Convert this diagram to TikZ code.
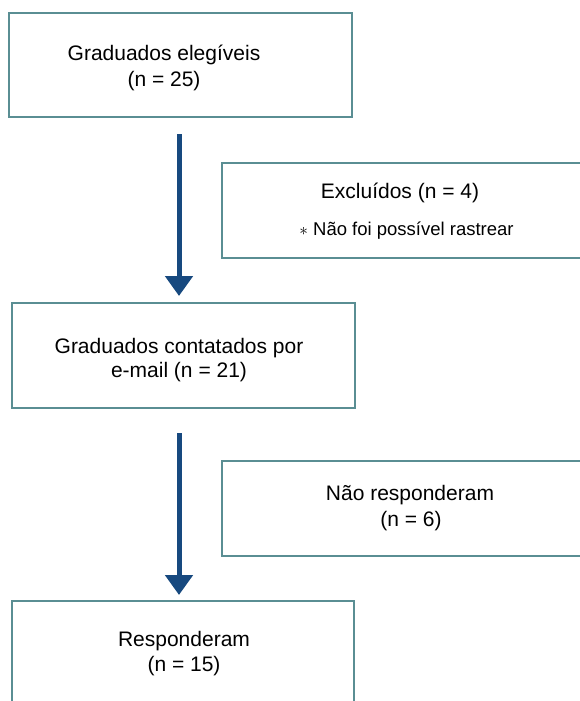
\documentclass[tikz,border=0pt]{standalone}
\usepackage{fontspec}
\setmainfont{Liberation Sans}
\usetikzlibrary{arrows.meta}
\definecolor{boxline}{HTML}{5A8E93}
\definecolor{arrowblue}{HTML}{17497F}
\begin{document}
\begin{tikzpicture}[x=1pt,y=-1pt,
  box/.style={draw=boxline, line width=2pt, fill=white, rectangle, inner sep=0pt},
  txt/.style={anchor=base, font=\fontsize{21}{25}\selectfont, inner sep=0pt},
  smalltxt/.style={anchor=base, font=\fontsize{18.5}{22}\selectfont, inner sep=0pt},
  arr/.style={draw=arrowblue, line width=5pt, -{Triangle[width=27pt,length=20pt]}}]
\useasboundingbox (0,0) rectangle (580,701);
\fill[white] (0,0) rectangle (580,701);
\clip (0,0) rectangle (580,701);
% boxes
\node[box, minimum width=343pt, minimum height=104pt] (b1) at (180.5,65) {};
\node[box, minimum width=368pt, minimum height=95pt] (b2) at (406,210.5) {};
\node[box, minimum width=343pt, minimum height=105pt] (b3) at (183.5,355.5) {};
\node[box, minimum width=368pt, minimum height=95pt] (b4) at (406,508.5) {};
\node[box, minimum width=342pt, minimum height=118pt] (b5) at (183,660) {};
% texts
\node[txt] (t1a) at (164,61) {Graduados elegíveis};
\node[txt] (t1b) at (164,86) {(n = 25)};
\node[txt] (t2a) at (400,198) {Excluídos (n = 4)};
\node[smalltxt] (t2b) at (406.5,235) {$\ast$ Não foi possível rastrear};
\node[txt] (t3a) at (179,353) {Graduados contatados por};
\node[txt] (t3b) at (179,377) {e-mail (n = 21)};
\node[txt] (t4a) at (410,500) {Não responderam};
\node[txt] (t4b) at (411,526) {(n = 6)};
\node[txt] (t5a) at (184,646) {Responderam};
\node[txt] (t5b) at (184,671) {(n = 15)};
% arrows
\coordinate (ax) at (179,0);
\draw[arr, shorten <=16pt, shorten >=6pt] (b1.south -| ax) -- (b3.north -| ax);
\draw[arr, shorten <=24pt, shorten >=5pt] (b3.south -| ax) -- (b5.north -| ax);
\end{tikzpicture}
\end{document}
